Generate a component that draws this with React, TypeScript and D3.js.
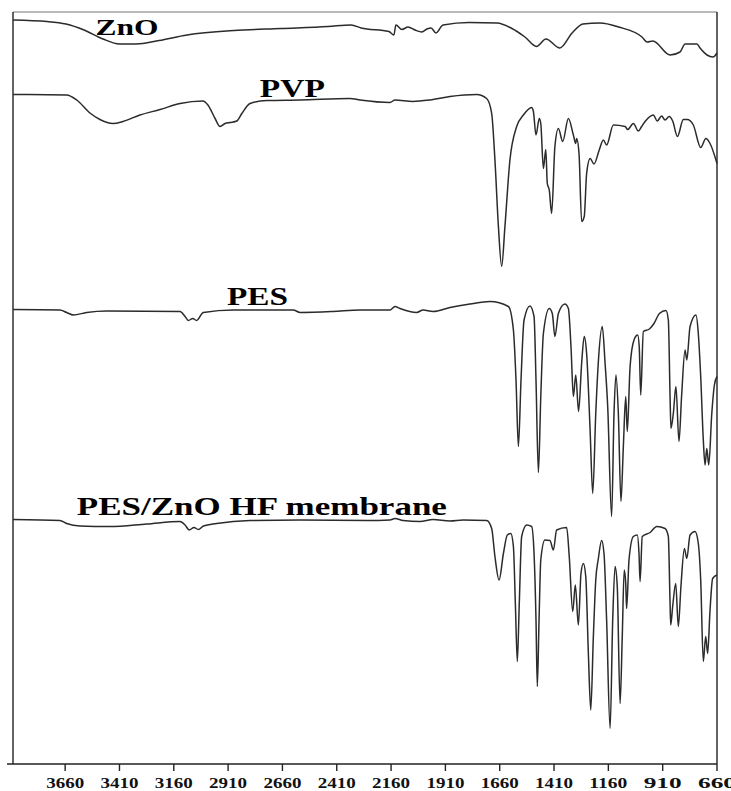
import React from 'react';
import * as d3 from 'd3';

// wavenumber (cm-1), offset transmittance (a.u.)
const zno: [number, number][] = [
  [3900, 148.8], [3743, 148.5], [3656, 148.0], [3573, 146.8], [3486, 145.0], [3410, 144.0],
  [3334, 144.0], [3228, 144.7], [3099, 145.8], [2883, 146.7], [2667, 147.1], [2450, 147.5],
  [2344, 147.8], [2298, 147.2], [2170, 146.5], [2147, 145.8], [2138, 147.8], [2110, 146.9],
  [2082, 147.4], [2050, 146.8], [2018, 146.4], [1995, 147.0], [1976, 147.2], [1953, 146.2],
  [1921, 147.8], [1801, 148.3], [1672, 148.2], [1608, 147.2], [1544, 145.4], [1491, 143.5],
  [1447, 145.0], [1383, 143.2], [1327, 146.2], [1277, 148.0], [1198, 148.2], [1113, 147.4],
  [1005, 145.4], [982, 144.4], [955, 144.6], [876, 141.8], [830, 142.4], [807, 144.0],
  [752, 144.0], [738, 143.2], [706, 141.8], [678, 141.4], [660, 142.2],
];

const pvp: [number, number][] = [
  [3900, 133.9], [3653, 133.8], [3607, 132.8], [3546, 130.2], [3500, 128.9], [3440, 128.1],
  [3394, 128.5], [3316, 129.8], [3223, 130.9], [3131, 132.1], [3026, 132.6], [3003, 131.8],
  [2970, 129.1], [2947, 127.5], [2924, 128.1], [2901, 128.3], [2870, 128.6], [2847, 130.1],
  [2809, 132.1], [2732, 132.7], [2579, 132.8], [2349, 133.1], [2303, 132.8], [2165, 132.3],
  [2142, 132.8], [2060, 132.5], [1981, 132.8], [1889, 133.5], [1766, 133.9], [1720, 133.1],
  [1697, 130.1], [1682, 120.8], [1666, 107.5], [1651, 99.5], [1636, 107.5], [1613, 120.8],
  [1582, 127.5], [1551, 129.8], [1513, 131.3], [1505, 130.5], [1493, 125.8], [1478, 129.1],
  [1471, 128.1], [1459, 119.1], [1448, 122.9], [1441, 116.1], [1432, 114.8], [1421, 110.1],
  [1406, 123.5], [1390, 127.1], [1370, 124.5], [1344, 129.1], [1321, 125.8], [1310, 124.1],
  [1306, 125.1], [1295, 122.1], [1283, 108.5], [1271, 109.5], [1260, 118.1], [1244, 121.1],
  [1226, 120.0], [1202, 122.8], [1183, 124.8], [1168, 123.8], [1137, 127.8], [1083, 127.5],
  [1071, 126.9], [1045, 128.1], [1022, 126.6], [1007, 127.5], [991, 128.5], [953, 129.8],
  [935, 128.6], [915, 129.6], [899, 128.8], [880, 129.5], [864, 128.6], [842, 125.5],
  [815, 128.9], [797, 128.9], [769, 127.8], [735, 123.3], [711, 125.1], [692, 124.1],
  [660, 120.1],
];

const pes: [number, number][] = [
  [3900, 90.9], [3684, 90.8], [3653, 90.3], [3622, 89.8], [3561, 90.3], [3469, 90.6],
  [3131, 90.5], [3108, 89.5], [3093, 88.7], [3073, 89.1], [3055, 88.7], [3024, 90.3],
  [2886, 90.8], [2610, 90.8], [2579, 90.3], [2427, 90.5], [2303, 90.8], [2165, 90.8],
  [2142, 91.5], [2119, 91.1], [2042, 90.3], [2013, 90.8], [1967, 90.5], [1889, 91.3],
  [1797, 92.0], [1705, 92.5], [1620, 91.5], [1597, 86.8], [1585, 76.8], [1574, 63.5],
  [1562, 76.8], [1548, 88.8], [1521, 91.6], [1502, 89.5], [1493, 76.8], [1482, 58.3],
  [1471, 73.5], [1459, 86.1], [1432, 91.1], [1418, 90.1], [1406, 85.5], [1390, 90.1],
  [1360, 92.0], [1344, 91.1], [1332, 83.5], [1321, 73.5], [1310, 77.8], [1297, 70.5],
  [1283, 80.1], [1271, 85.5], [1260, 82.1], [1244, 66.8], [1232, 54.1], [1218, 70.1],
  [1206, 80.5], [1188, 87.5], [1175, 80.1], [1163, 71.5], [1145, 49.5], [1134, 70.1],
  [1125, 77.8], [1114, 70.1], [1102, 52.5], [1091, 63.5], [1080, 73.5], [1073, 66.5],
  [1060, 79.5], [1042, 84.8], [1025, 85.8], [1018, 83.5], [1011, 73.8], [999, 86.5],
  [971, 87.0], [950, 88.1], [925, 90.1], [895, 90.7], [884, 88.8], [876, 73.5],
  [872, 67.1], [861, 70.1], [849, 75.5], [835, 64.5], [823, 73.5], [807, 82.8],
  [799, 80.8], [784, 87.5], [757, 89.8], [746, 86.1], [735, 77.5], [723, 64.8],
  [715, 59.8], [707, 63.1], [698, 59.8], [684, 70.1], [672, 75.8], [660, 77.5],
];

const membrane: [number, number][] = [
  [3900, 48.9], [3684, 48.7], [3653, 48.1], [3592, 47.6], [3454, 47.5], [3285, 48.0],
  [3131, 48.5], [3108, 47.8], [3089, 46.8], [3067, 47.3], [3047, 46.9], [3024, 47.6],
  [2963, 48.1], [2809, 48.7], [2579, 48.8], [2272, 48.7], [2165, 48.8], [2142, 49.1],
  [2105, 48.7], [2027, 48.5], [1967, 48.9], [1889, 48.6], [1828, 48.8], [1720, 48.7],
  [1697, 47.1], [1682, 41.5], [1663, 36.8], [1643, 42.1], [1625, 45.8], [1609, 46.1],
  [1597, 43.5], [1588, 32.1], [1579, 20.5], [1570, 32.1], [1559, 45.5], [1536, 47.8],
  [1513, 47.5], [1502, 42.1], [1493, 28.8], [1487, 15.5], [1479, 28.8], [1471, 40.8],
  [1452, 44.8], [1429, 44.7], [1413, 42.8], [1398, 46.8], [1352, 47.3], [1340, 41.5],
  [1324, 30.5], [1312, 35.8], [1298, 27.8], [1286, 38.1], [1275, 40.1], [1264, 37.5],
  [1252, 22.1], [1241, 10.8], [1229, 25.5], [1218, 36.8], [1206, 41.1], [1191, 44.7],
  [1180, 42.1], [1168, 28.8], [1152, 7.1], [1140, 28.8], [1129, 39.5], [1119, 35.5],
  [1106, 12.1], [1096, 25.5], [1087, 38.8], [1080, 36.1], [1076, 31.1], [1065, 40.8],
  [1045, 45.5], [1027, 45.8], [1019, 42.1], [1014, 36.5], [1004, 45.5], [968, 46.3],
  [937, 47.5], [899, 47.1], [884, 45.5], [876, 32.1], [873, 27.8], [864, 31.5],
  [850, 36.1], [838, 27.5], [826, 35.5], [810, 43.1], [799, 41.1], [784, 45.8],
  [761, 46.5], [746, 44.1], [735, 36.8], [723, 20.5], [712, 25.5], [703, 22.1],
  [692, 30.8], [680, 37.1], [660, 37.8],
];

const tickValues = [3660, 3410, 3160, 2910, 2660, 2410, 2160, 1910, 1660, 1410, 1160, 910, 660];

const labels = [
  { text: 'ZnO', w: 3520, v: 145.8, size: 23, len: 63 },
  { text: 'PVP', w: 2764, v: 133.4, size: 25, len: 65 },
  { text: 'PES', w: 2915, v: 91.8, size: 25, len: 61 },
  { text: 'PES/ZnO HF membrane', w: 3606, v: 49.8, size: 25, len: 370 },
];

const width = 731;
const height = 791;
const margin = { top: 12, right: 14, bottom: 27, left: 13 };
const serif = "Liberation Serif, Times New Roman, Times, serif";

export default function App() {
  const x = d3.scaleLinear().domain([3900, 660]).range([margin.left, width - margin.right]);
  const y = d3.scaleLinear().domain([0, 150.4]).range([height - margin.bottom, margin.top]);

  const line = d3
    .line<[number, number]>()
    .x((d) => x(d[0]))
    .y((d) => y(d[1]))
    .curve(d3.curveMonotoneX);

  const series = [zno, pvp, pes, membrane];
  const x0 = margin.left;
  const x1 = width - margin.right;
  const y0 = height - margin.bottom;
  const y1 = margin.top;

  return (
    <svg
      width={width}
      height={height}
      style={{ position: 'absolute', left: 0, top: 0, background: '#fff' }}
    >
      {/* frame */}
      <line x1={x0} x2={x1} y1={y1} y2={y1} stroke="#777" strokeWidth={1.2} />
      <line x1={x1} x2={x1} y1={y1} y2={y0} stroke="#222" strokeWidth={1.4} />
      <line x1={x0} x2={x0} y1={y1} y2={y0} stroke="#222" strokeWidth={1.4} />
      <line x1={x0 - 6} x2={x1} y1={y0} y2={y0} stroke="#222" strokeWidth={1.4} />

      {tickValues.map((t) => (
        <g key={t} transform={`translate(${x(t)},${y0})`}>
          <line y1={0} y2={7} stroke="#222" strokeWidth={1.4} />
          <text
            y={24}
            textAnchor="middle"
            fontFamily={serif}
            fontWeight="bold"
            fontSize={15}
            textLength={38}
            lengthAdjust="spacingAndGlyphs"
            fill="#111"
          >
            {t}
          </text>
        </g>
      ))}

      {series.map((s, i) => (
        <path key={i} d={line(s) || ''} fill="none" stroke="#2b2b2b" strokeWidth={1.5} />
      ))}

      {labels.map((l) => (
        <text
          key={l.text}
          x={x(l.w)}
          y={y(l.v)}
          fontFamily={serif}
          fontWeight="bold"
          fontSize={l.size}
          textLength={l.len}
          lengthAdjust="spacingAndGlyphs"
          fill="#000"
        >
          {l.text}
        </text>
      ))}
    </svg>
  );
}
